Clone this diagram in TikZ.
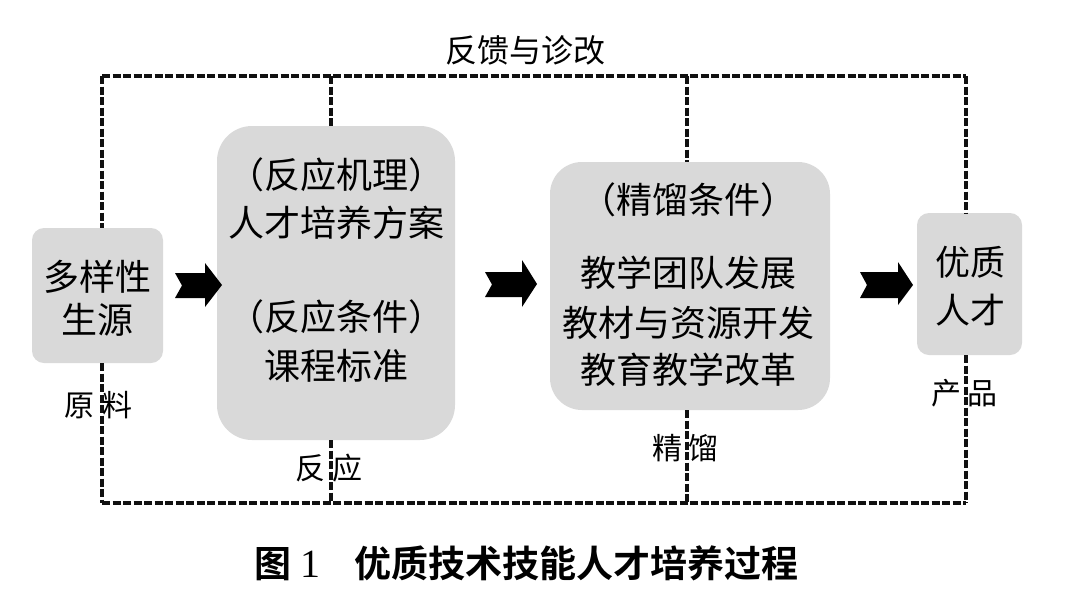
\documentclass[tikz,border=0pt]{standalone}
\usepackage{fontspec}
\newfontfamily\cjk{Noto Sans CJK SC}
\newfontfamily\cjkbold{Noto Sans CJK SC Bold}
\newfontfamily\serifnum{Liberation Serif}
\definecolor{boxgray}{HTML}{D9D9D9}
\definecolor{dashcol}{HTML}{111111}
\begin{document}
\begin{tikzpicture}[x=1pt,y=-1pt,
  stagebox/.style={fill=boxgray, draw=none, inner sep=0pt},
  boxtext/.style={font=\cjk\fontsize{36}{40}\selectfont, inner sep=0pt, text=black},
  labeltext/.style={font=\cjk\fontsize{30}{34}\selectfont, inner sep=0pt, text=black},
  feedback/.style={draw=dashcol, line width=3.2pt, dash pattern=on 8pt off 2.5pt},
  blockarrow/.style={fill=black, draw=none}
]
\useasboundingbox[fill=white] (0,0) rectangle (1066,614);

% stage boxes
\node[stagebox, rounded corners=12pt, minimum width=131pt, minimum height=135pt] (b1) at (97.5,295.5) {};
\node[stagebox, rounded corners=35pt, minimum width=238pt, minimum height=314pt] (b2) at (336,283) {};
\node[stagebox, rounded corners=32pt, minimum width=280pt, minimum height=248pt] (b3) at (690,286) {};
\node[stagebox, rounded corners=12pt, minimum width=105pt, minimum height=142pt] (b4) at (969.5,284) {};

% frame corners
\coordinate (tl) at (102,76);
\coordinate (tr) at (966,76);
\coordinate (bl) at (102,503);
\coordinate (br) at (966,503);

% feedback loop (dashed)
\draw[feedback] (tl) -- (tr);
\draw[feedback] (bl) -- (br);
\draw[feedback] (tl) -- (tl |- b1.north);
\draw[feedback] (bl |- b1.south) -- (bl);
\draw[feedback] (331,76) -- (331,0 |- b2.north);
\draw[feedback] (331,0 |- b2.south) -- (331,503);
\draw[feedback] (687,76) -- (687,0 |- b3.north);
\draw[feedback] (687,0 |- b3.south) -- (687,503);
\draw[feedback] (tr) -- (tr |- b4.north);
\draw[feedback] (br |- b4.south) -- (br);

% block arrows
\fill[blockarrow] (175,273) -- (205,273) -- (205,263) -- (222,285) -- (205,307) -- (205,298) -- (175,298) -- (182,285.5) -- cycle;
\fill[blockarrow] (485,272) -- (522,272) -- (522,260) -- (537,284) -- (522,307) -- (522,297) -- (485,297) -- (492,284.5) -- cycle;
\fill[blockarrow] (860,272) -- (898,272) -- (898,262) -- (913,285) -- (898,305) -- (898,298) -- (860,298) -- (867,285) -- cycle;

% texts
\node[font=\cjk\fontsize{32}{36}\selectfont, inner sep=0pt] (fb) at (525,50) {反馈与诊改};

\node[boxtext] (t11) at (97,277) {多样性};
\node[boxtext] (t12) at (97,320) {生源};

\node[boxtext] (t21) at (336,175) {（反应机理）};
\node[boxtext] (t22) at (336,223) {人才培养方案};
\node[boxtext] (t23) at (336,317) {（反应条件）};
\node[boxtext] (t24) at (336,366) {课程标准};

\node[boxtext] (t31) at (688,200) {（精馏条件）};
\node[boxtext] (t32) at (688,273) {教学团队发展};
\node[boxtext] (t33) at (688,323) {教材与资源开发};
\node[boxtext] (t34) at (688,370) {教育教学改革};

\node[boxtext, font=\cjk\fontsize{35}{39}\selectfont] (t41) at (970,262) {优质};
\node[boxtext, font=\cjk\fontsize{35}{39}\selectfont] (t42) at (970,310) {人才};

\node[labeltext] (l1) at (98.5,405) {原\hspace{8pt}料};
\node[labeltext] (l2) at (329,468) {反\hspace{7pt}应};
\node[labeltext] (l3) at (685.5,448) {精\hspace{7pt}馏};
\node[labeltext] (l4) at (964,393) {产\hspace{6pt}品};

\node[anchor=west, inner sep=0pt, font=\fontsize{37}{41}\selectfont] (cap) at (254,563)
  {{\cjkbold 图}\hspace{9pt}{\serifnum\fontsize{40}{44}\selectfont 1}\hspace{34pt}{\cjkbold 优质技术技能人才培养过程}};
\end{tikzpicture}
\end{document}
